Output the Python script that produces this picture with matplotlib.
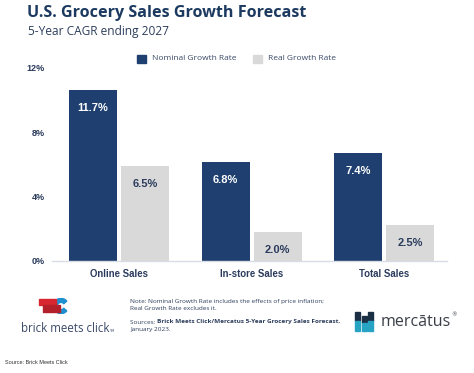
import matplotlib
matplotlib.use("Agg")
import matplotlib.pyplot as plt
from matplotlib.patches import Rectangle, Wedge
import numpy as np

categories = ["Online Sales", "In-store Sales", "Total Sales"]
nominal = [11.7, 6.8, 7.4]
real = [6.5, 2.0, 2.5]
series_names = ["Nominal Growth Rate", "Real Growth Rate"]
tick_values = [0, 4, 8, 12]
tick_labels = ["0%", "4%", "8%", "12%"]

NAVY = "#1e3f6f"
GREY = "#d9d9d9"
TXT = "#2a3b5c"

W, H = 474, 373
fig = plt.figure(figsize=(W / 100, H / 100), dpi=100)
fig.patch.set_facecolor("white")

def fx(px):
    return px / W

def fy(py):
    return 1 - py / H

ax = fig.add_axes([fx(52), fy(261), fx(447 - 52), (261 - 60) / H])
x = np.arange(len(categories))
bw = 0.362
off = 0.196
b1 = ax.bar(x - off, nominal, bw, color=NAVY)
b2 = ax.bar(x + off, real, bw, color=GREY)
ax.set_xlim(-0.506, 2.475)
ax.set_ylim(0, 13.77)

# the original's tick labels sit on a slightly wider grid than the bars
tick_scale = 16.1 / 14.6
ax.set_yticks([v * tick_scale for v in tick_values])
ax.set_yticklabels(tick_labels, fontsize=6.5, fontweight="bold", color=TXT,
                   family="Liberation Sans")
ax.tick_params(axis="y", length=0, pad=5)
ax.set_xticks(x)
ax.set_xticklabels(categories, fontsize=6.9, fontweight="bold", color=TXT,
                   family="Liberation Sans")
ax.tick_params(axis="x", length=0, pad=6)
for s in ["top", "right", "left"]:
    ax.spines[s].set_visible(False)
ax.spines["bottom"].set_color("#d8dde5")
ax.spines["bottom"].set_linewidth(1)
ax.patch.set_alpha(0)

for rect, v in zip(b1, nominal):
    ax.annotate(f"{v:.1f}%", (rect.get_x() + rect.get_width() / 2, rect.get_height()),
                xytext=(0, -13), textcoords="offset points", ha="center", va="center",
                color="white", fontsize=8, fontweight="bold", family="Liberation Sans")
for rect, v in zip(b2, real):
    ax.annotate(f"{v:.1f}%", (rect.get_x() + rect.get_width() / 2, rect.get_height()),
                xytext=(0, -13), textcoords="offset points", ha="center", va="center",
                color=TXT, fontsize=8, fontweight="bold", family="Liberation Sans")

# title / subtitle
fig.text(fx(27), fy(13), "U.S. Grocery Sales Growth Forecast", fontsize=11.6,
         fontweight="bold", color="#1c3a60", family="Open Sans", va="center")
fig.text(fx(28), fy(32), "5-Year CAGR ending 2027", fontsize=8.6,
         color="#2d3e5c", family="Open Sans", va="center")

# legend
fig.patches.append(Rectangle((fx(137), fy(63)), fx(9), 8 / H, color=NAVY,
                             transform=fig.transFigure, figure=fig))
fig.text(fx(152), fy(59), series_names[0], fontsize=6.0, color="#3a4a68",
         family="Open Sans", va="center")
fig.patches.append(Rectangle((fx(253), fy(63)), fx(9), 8 / H, color=GREY,
                             transform=fig.transFigure, figure=fig))
fig.text(fx(268), fy(59), series_names[1], fontsize=6.0, color="#3a4a68",
         family="Open Sans", va="center")

# brick meets click logo (approximate)
lax = fig.add_axes([fx(51), fy(314), fx(20), 16 / H])
lax.set_xlim(-1.25, 1.25)
lax.set_ylim(-1, 1)
lax.axis("off")
lax.add_patch(Wedge((0, 0), 0.95, 40, 320, width=0.5, color="#1f8fd0"))
fig.patches.append(Rectangle((fx(39), fy(305)), fx(17), 6 / H, color="#d7262f",
                             transform=fig.transFigure, figure=fig, zorder=5))
fig.patches.append(Rectangle((fx(43), fy(312)), fx(17), 7 / H, color="#b3202a",
                             transform=fig.transFigure, figure=fig, zorder=5))
fig.text(fx(21), fy(328), "brick meets click", fontsize=8.3, color="#3a4a68",
         family="Open Sans", va="center")
fig.text(fx(109), fy(331), "TM", fontsize=2.5, color="#3a4a68", va="center")

# notes
nf = dict(fontsize=4.55, color="#2d3e5c", family="Open Sans", va="center")
fig.text(fx(130), fy(301), "Note: Nominal Growth Rate includes the effects of price inflation;", **nf)
fig.text(fx(130), fy(308.5), "Real Growth Rate excludes it.", **nf)
t = fig.text(fx(130), fy(322), "Sources: ", **nf)
fig.canvas.draw()
bb = t.get_window_extent()
fig.text(bb.x1 / W, fy(322), "Brick Meets Click/Mercatus 5-Year Grocery Sales Forecast,",
         fontweight="bold", **nf)
fig.text(fx(130), fy(330), "January 2023.", **nf)

# mercatus logo (approximate)
bars = [(355, 312, 331), (361.5, 316, 331), (367.5, 312, 331)]
for bx, top, bot in bars:
    mid = top + (bot - top) * 0.45
    fig.patches.append(Rectangle((fx(bx), fy(mid)), fx(5), (mid - top) / H, color="#1b2f45",
                                 transform=fig.transFigure, figure=fig))
    fig.patches.append(Rectangle((fx(bx), fy(bot)), fx(5), (bot - mid) / H, color="#27a3c4",
                                 transform=fig.transFigure, figure=fig))
fig.text(fx(381), fy(322), "mercātus", fontsize=11.5, color="#3a3f47",
         family="Open Sans", va="center")
fig.text(fx(451), fy(315), "®", fontsize=4, color="#3a3f47", va="center")

fig.text(fx(5), fy(363), "Source: Brick Meets Click", fontsize=4.0, color="#333333",
         family="Liberation Sans", va="center")

fig.savefig("out.png", dpi=100, facecolor="white")
